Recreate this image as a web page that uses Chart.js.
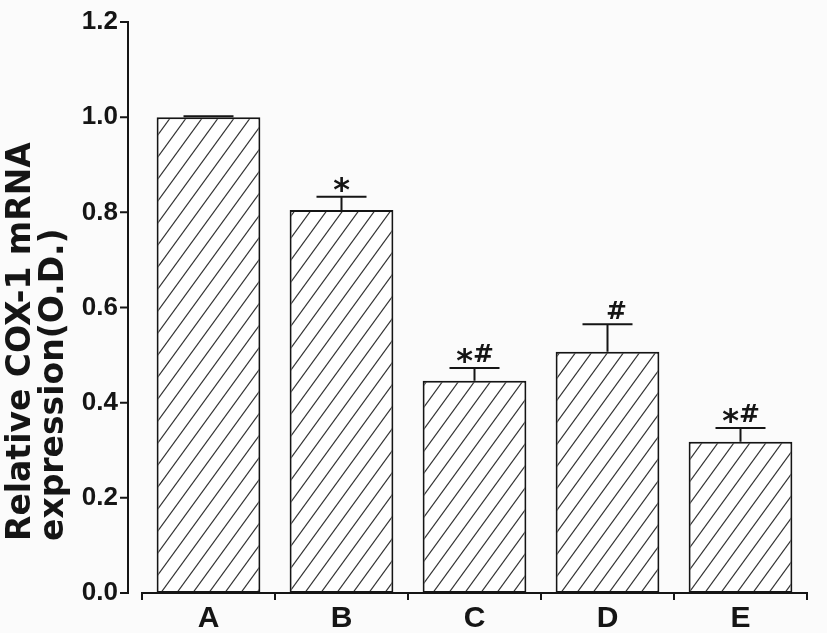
<!DOCTYPE html>
<html><head><meta charset="utf-8">
<script src="https://cdn.jsdelivr.net/npm/chart.js@4"></script>
<style>html,body{margin:0;padding:0;background:#fbfbfb}#wrap{width:827px;height:633px}</style>
</head><body><div id="wrap"><canvas id="c" width="827" height="633"></canvas></div>
<script>
const categories = ['A', 'B', 'C', 'D', 'E'];
const means = [1.0, 0.805, 0.446, 0.507, 0.318];
const errors = [0.002, 0.028, 0.027, 0.058, 0.029];
const marks = ['', '*', '*#', '#', '*#'];
const yTickValues = [0, 0.2, 0.4, 0.6, 0.8, 1.0, 1.2];
const yTitle = ['Relative COX-1 mRNA', 'expression(O.D.)'];

const INK = '#151515';

function hatchPattern() {
  const w = 16, h = 22;
  const c = document.createElement('canvas');
  c.width = w; c.height = h;
  const g = c.getContext('2d');
  g.fillStyle = '#ffffff';
  g.fillRect(0, 0, w, h);
  g.strokeStyle = '#333333';
  g.lineWidth = 1.2;
  for (const dx of [-w, 0, w]) {
    g.beginPath();
    g.moveTo(dx - w, 2 * h);
    g.lineTo(dx + 2 * w, -h);
    g.stroke();
  }
  return g.createPattern(c, 'repeat');
}

const decor = {
  id: 'decor',
  beforeDraw(chart) {
    const g = chart.ctx;
    g.save();
    g.fillStyle = '#fbfbfb';
    g.fillRect(0, 0, chart.width, chart.height);
    g.restore();
  },
  afterLayout(chart) {
    chart.scales.y.bottom = chart.chartArea.bottom - 52;
  },
  afterDraw(chart) {
    const g = chart.ctx;
    const ys = chart.scales.y;
    const ax = chart.chartArea.left - 14;
    g.save();
    g.strokeStyle = INK;
    g.lineWidth = 2;
    g.beginPath();
    g.moveTo(ax, ys.getPixelForValue(yTickValues[yTickValues.length - 1]) - 1);
    g.lineTo(ax, ys.getPixelForValue(0) + 1);
    for (const v of yTickValues) {
      const py = ys.getPixelForValue(v);
      g.moveTo(ax - 8, py);
      g.lineTo(ax + 1, py);
    }
    g.stroke();
    g.restore();
  },
  afterDatasetsDraw(chart) {
    const g = chart.ctx;
    const ys = chart.scales.y;
    const meta = chart.getDatasetMeta(0);
    g.save();
    g.strokeStyle = INK;
    g.fillStyle = INK;
    g.lineWidth = 2;
    meta.data.forEach((bar, i) => {
      const x = bar.x;
      const yTop = ys.getPixelForValue(means[i]);
      const yErr = ys.getPixelForValue(means[i] + errors[i]);
      g.beginPath();
      g.moveTo(x, yTop);
      g.lineTo(x, yErr);
      g.moveTo(x - 25, yErr);
      g.lineTo(x + 25, yErr);
      g.stroke();
      const m = marks[i];
      const cy = yErr - 14.5;
      const hasHash = m.includes('#');
      g.textAlign = 'center';
      g.textBaseline = 'alphabetic';
      if (m.includes('*')) {
        g.font = "bold 32px 'DejaVu Sans', sans-serif";
        g.fillText('*', x + (hasHash ? -10 : 0), cy + 18);
      }
      if (hasHash) {
        g.font = "bold 25px 'DejaVu Sans', sans-serif";
        g.fillText('#', x + 9, cy + 9);
      }
    });
    g.restore();
  }
};

new Chart(document.getElementById('c'), {
  type: 'bar',
  data: {
    labels: categories,
    datasets: [{
      data: means,
      backgroundColor: hatchPattern(),
      borderColor: INK,
      borderWidth: 2,
      borderSkipped: false,
      categoryPercentage: 1,
      barPercentage: 0.78,
      clip: false
    }]
  },
  options: {
    responsive: false,
    animation: false,
    devicePixelRatio: 1,
    layout: { padding: { top: 22, right: 20, bottom: 0, left: 0 } },
    plugins: { legend: { display: false }, tooltip: { enabled: false } },
    scales: {
      x: {
        grid: { display: true, offset: true, drawOnChartArea: false, tickLength: 7, color: INK, lineWidth: 2 },
        border: { display: true, color: INK, width: 2 },
        ticks: {
          color: INK,
          padding: 1,
          font: { family: "'Liberation Sans Narrow', 'Liberation Sans', Arial, sans-serif", weight: 'bold', size: 30 }
        },
        afterFit(s) { s.height = 40; s.paddingLeft = 0; s.paddingRight = 0; }
      },
      y: {
        min: 0,
        max: 1.2,
        afterBuildTicks(s) { s.ticks = yTickValues.map(v => ({ value: v })); },
        grid: { display: false, drawTicks: false },
        border: { display: false },
        ticks: {
          color: INK,
          padding: 24,
          font: { family: "'Liberation Sans', Arial, sans-serif", weight: 'bold', size: 26 },
          callback: v => Number(v).toFixed(1)
        },
        title: {
          display: true,
          text: yTitle,
          align: 'start',
          color: INK,
          padding: { top: 5, bottom: 0 },
          font: { family: "'DejaVu Sans', sans-serif", weight: 'bold', size: 33, lineHeight: 1.0 }
        },
        afterFit(s) { s.width = 142; s.paddingTop = 0; s.paddingBottom = 0; }
      }
    }
  },
  plugins: [decor]
});
</script>
</body></html>
